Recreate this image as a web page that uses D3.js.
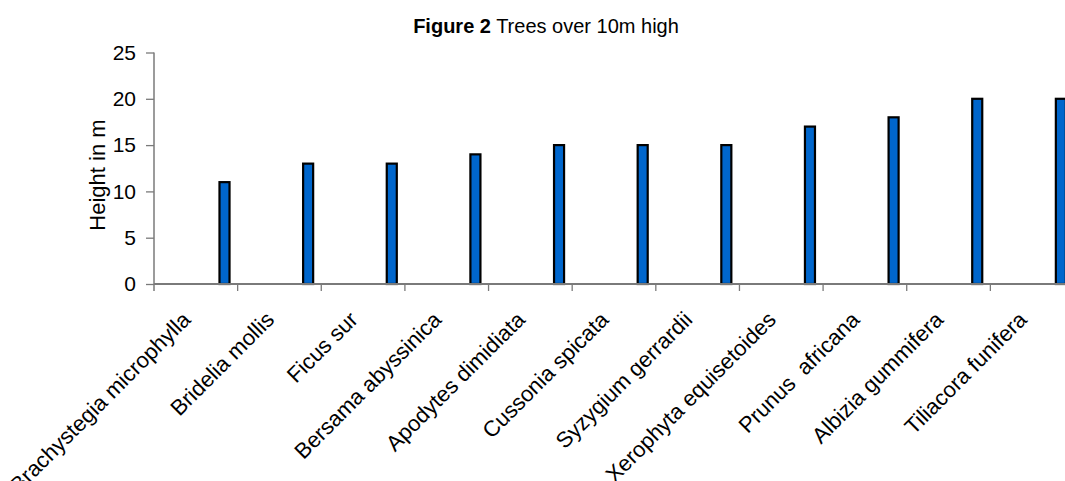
<!DOCTYPE html>
<html>
<head>
<meta charset="utf-8">
<script src="https://cdn.jsdelivr.net/npm/d3@7"></script>
<style>
  html, body { margin: 0; padding: 0; background: #ffffff; }
  svg { display: block; font-family: "Liberation Sans", Arial, sans-serif; }
</style>
</head>
<body>
<svg id="chart" width="1065" height="481"></svg>
<script>
// Tree species and their heights (m)
const species = [
  "Brachystegia microphylla", "Bridelia mollis", "Ficus sur", "Bersama abyssinica",
  "Apodytes dimidiata", "Cussonia spicata", "Syzygium gerrardii",
  "Xerophyta equisetoides", "Prunus  africana", "Albizia gummifera", "Tiliacora funifera"
];
const heights = [11, 13, 13, 14, 15, 15, 15, 17, 18, 20, 20];
const yTicks = [0, 5, 10, 15, 20, 25];

const svg = d3.select("#chart");
const plot = { left: 154, right: 1074, top: 52.5, bottom: 284 };

const x = d3.scaleBand().domain(species).range([plot.left, plot.right]).paddingInner(0).paddingOuter(0);
const y = d3.scaleLinear().domain([0, 25]).range([plot.bottom, plot.top]);

const axisColor = "#7a7a7a";

// Bars sit at the right side of each category slot
const barOffset = x.step() * 0.783;
const barWidth = x.step() * 0.12;
svg.append("g").selectAll("rect")
  .data(species)
  .join("rect")
  .attr("x", d => x(d) + barOffset)
  .attr("width", barWidth)
  .attr("y", (d, i) => y(heights[i]))
  .attr("height", (d, i) => y(0) - y(heights[i]))
  .attr("fill", "#0066cc")
  .attr("stroke", "#000")
  .attr("stroke-width", 2.2);

// Y axis
const yAxis = svg.append("g")
  .attr("transform", `translate(${plot.left},0)`)
  .call(d3.axisLeft(y).tickValues(yTicks).tickSize(8).tickPadding(10).tickFormat(d3.format("d")));
yAxis.select(".domain").attr("stroke", axisColor).attr("stroke-width", 1.5)
  .attr("d", `M0,${plot.top}V${plot.bottom + 7}`);
yAxis.selectAll(".tick line").attr("stroke", axisColor).attr("stroke-width", 1.3);
yAxis.selectAll(".tick text")
  .attr("font-size", 21).attr("fill", "#000")
  .attr("font-family", '"Liberation Sans", Arial, sans-serif');

// X axis: ticks at category boundaries
const boundaries = d3.range(species.length + 1).map(i => plot.left + i * x.step());
const xg = svg.append("g");
xg.append("line")
  .attr("x1", plot.left).attr("x2", plot.right)
  .attr("y1", plot.bottom).attr("y2", plot.bottom)
  .attr("stroke", axisColor).attr("stroke-width", 1.8);
xg.selectAll("line.tk")
  .data(boundaries.slice(1))
  .join("line")
  .attr("class", "tk")
  .attr("x1", d => d).attr("x2", d => d)
  .attr("y1", plot.bottom).attr("y2", plot.bottom + 7)
  .attr("stroke", axisColor).attr("stroke-width", 1.3);

// Category labels, rotated
xg.selectAll("text")
  .data(species)
  .join("text")
  .attr("transform", d => `translate(${x(d) + x.bandwidth() / 2 - 4},${plot.bottom + 37}) rotate(-45)`)
  .attr("text-anchor", "end")
  .attr("font-size", 22)
  .attr("fill", "#000")
  .style("white-space", "pre")
  .text(d => d);

// Y axis title
svg.append("text")
  .attr("transform", "translate(105,175) rotate(-90)")
  .attr("text-anchor", "middle")
  .attr("font-size", 22)
  .attr("fill", "#000")
  .text("Height in m");

// Chart title
const title = svg.append("text")
  .attr("x", 546).attr("y", 33)
  .attr("text-anchor", "middle")
  .attr("font-size", 20)
  .attr("fill", "#000");
title.append("tspan").attr("font-weight", "bold").text("Figure 2");
title.append("tspan").text(" Trees over 10m high");
</script>
</body>
</html>
